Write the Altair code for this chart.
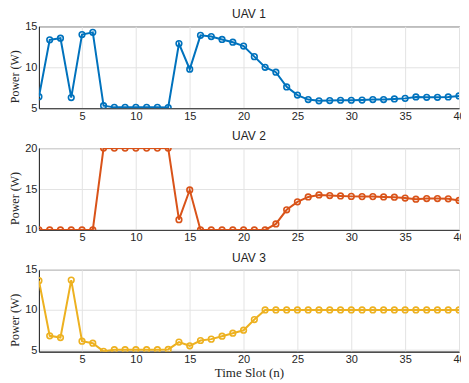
import altair as alt
import pandas as pd

slots = list(range(1, 41))
uav1 = [6.4, 13.35, 13.55, 6.3, 14.0, 14.27, 5.3, 5.1, 5.1, 5.1, 5.1, 5.1, 5.08, 12.9,
        9.76, 13.9, 13.75, 13.4, 13.06, 12.6, 11.3, 10.0, 9.4, 7.6, 6.6, 6.05, 5.9,
        5.93, 5.97, 5.97, 6.0, 6.05, 6.05, 6.13, 6.2, 6.37, 6.33, 6.33, 6.37, 6.5]
uav2 = [10, 10, 10, 10, 10, 10, 20, 20, 20, 20, 20, 20, 20, 11.25, 14.88, 10, 10, 10,
        10, 10, 10, 10, 10.73, 12.46, 13.43, 14.03, 14.27, 14.2, 14.15, 14.1, 14.07,
        14.07, 14.03, 14.0, 13.9, 13.75, 13.83, 13.83, 13.8, 13.6]
uav3 = [13.64, 6.77, 6.56, 13.72, 6.1, 5.86, 4.84, 5.04, 5.04, 5.04, 5.04, 5.04, 5.08,
        5.99, 5.53, 6.19, 6.36, 6.73, 7.1, 7.47, 8.8, 10, 10, 10, 10, 10, 10, 10, 10,
        10, 10, 10, 10, 10, 10, 10, 10, 10, 10, 10]

titles = ["UAV 1", "UAV 2", "UAV 3"]
colors = ["#0072BD", "#D95319", "#EDB120"]
domains = [[5, 15], [10, 20], [4.8, 15]]
yticks = [[5, 10, 15], [10, 15, 20], [5, 10, 15]]
xticks = [5, 10, 15, 20, 25, 30, 35, 40]
series = [uav1, uav2, uav3]

W, H = 421, 82
LABEL_FONT = "Liberation Sans"
SERIF = "Liberation Serif"


def panel(i):
    df = pd.DataFrame({"slot": slots, "power": series[i]})
    last = i == 2
    xaxis = dict(values=xticks, labelFlush=False)
    if last:
        xaxis.update(title="Time Slot (n)", titleFont=SERIF, titleFontSize=13,
                     titleFontWeight="normal", titlePadding=2, titleColor="#262626")
    else:
        xaxis.update(title=None)
    x = alt.X("slot:Q",
              scale=alt.Scale(domain=[1, 40], nice=False, zero=False),
              axis=alt.Axis(**xaxis))
    y = alt.Y("power:Q",
              scale=alt.Scale(domain=domains[i], nice=False, zero=False),
              axis=alt.Axis(values=yticks[i], title="Power (W)", labelFlush=False,
                            titleFont=SERIF, titleFontSize=12, titleFontWeight="normal",
                            titlePadding=3, titleColor="#262626", titleY=50))
    base = alt.Chart(df).encode(x=x, y=y)
    line = base.mark_line(color=colors[i], strokeWidth=2, clip=True)
    pts = base.mark_point(color=colors[i], filled=False, size=32, strokeWidth=1.6,
                          opacity=1, clip=True)
    return alt.layer(line, pts).properties(
        width=W, height=H,
        title=alt.TitleParams(titles[i], font=LABEL_FONT, fontSize=12,
                              fontWeight="normal", color="#222", offset=1, dy=2))


chart = alt.vconcat(panel(0), panel(1), panel(2), spacing=7).configure_view(
    stroke="#333333", strokeWidth=1
).configure_axis(
    grid=True, gridColor="#e3e3e3", gridWidth=1,
    ticks=False, domain=True, domainColor="#333333", domainWidth=1,
    labelFont=LABEL_FONT, labelFontSize=11, labelColor="#262626", labelPadding=2,
).properties(padding={"left": 0, "top": -1, "right": -5, "bottom": 0},
             background="white")

chart.save("out.html", embed_options={"renderer": "svg", "actions": False})
